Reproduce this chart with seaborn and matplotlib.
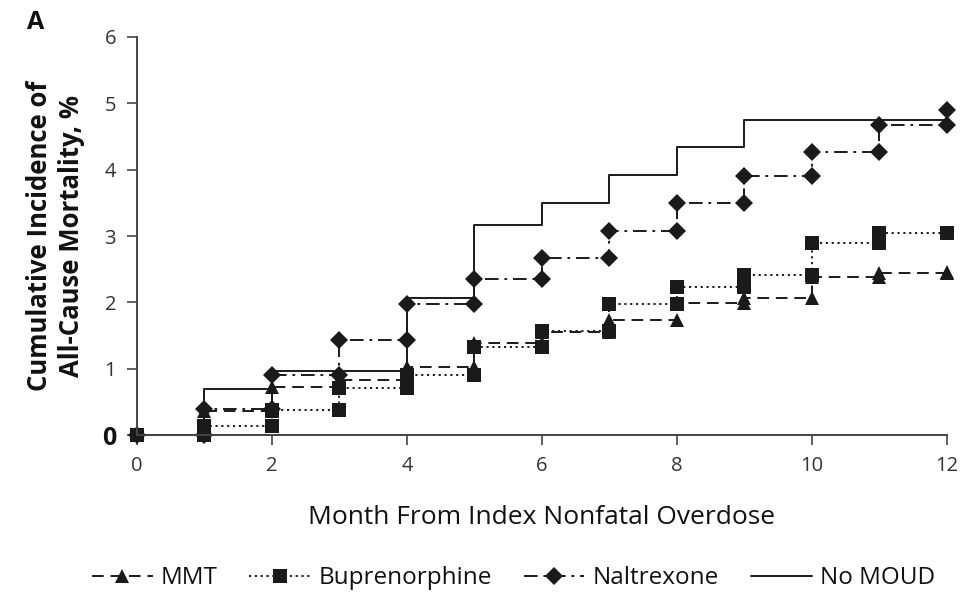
import matplotlib
matplotlib.use("Agg")
import matplotlib.pyplot as plt
import seaborn as sns
import numpy as np
import pandas as pd

# ---- data (cumulative incidence, %, after each monthly step) ----
months = list(range(0, 13))
mmt = [0, 0.36, 0.72, 0.83, 1.02, 1.39, 1.56, 1.74, 1.99, 2.06, 2.38, 2.44, 2.46]
buprenorphine = [0, 0.13, 0.38, 0.71, 0.90, 1.33, 1.57, 1.97, 2.23, 2.42, 2.90, 3.04, 3.04]
naltrexone = [0, 0.39, 0.90, 1.43, 1.97, 2.35, 2.67, 3.07, 3.50, 3.90, 4.27, 4.68, 4.90]
no_moud = [0, 0.70, 0.96, 0.96, 2.06, 3.16, 3.50, 3.92, 4.34, 4.75, 4.75, 4.75, 4.75]

series_names = ["MMT", "Buprenorphine", "Naltrexone", "No MOUD"]
x_ticks = [0, 2, 4, 6, 8, 10, 12]
y_ticks = [0, 1, 2, 3, 4, 5, 6]
x_label = "Month From Index Nonfatal Overdose"
y_label = "Cumulative Incidence of\nAll-Cause Mortality, %"
panel_label = "A"


def step_table(xs, ys):
    """Vertices of a right-continuous step path (markers sit on each vertex)."""
    sx, sy = [xs[0]], [ys[0]]
    for i in range(1, len(xs)):
        sx += [xs[i], xs[i]]
        sy += [ys[i - 1], ys[i]]
    return pd.DataFrame({"month": sx, "pct": sy})


sns.set_theme(style="ticks")
plt.rcParams["font.family"] = ["Open Sans", "DejaVu Sans"]

fig = plt.figure(figsize=(9.68, 5.96), dpi=100)
ax = fig.add_axes([0.1415, 0.270, 0.8365, 0.668])

ink = "#1a1a1a"
styles = {
    "MMT": dict(marker="^", markersize=10, linestyle=(0, (6, 3.5))),
    "Buprenorphine": dict(marker="s", markersize=10, linestyle=(0, (1.1, 1.9))),
    "Naltrexone": dict(marker="D", markersize=9.3, linestyle=(0, (7, 3, 1.4, 3))),
    "No MOUD": dict(marker=None, linestyle="-"),
}
values = {"MMT": mmt, "Buprenorphine": buprenorphine,
          "Naltrexone": naltrexone, "No MOUD": no_moud}

for name in series_names:
    df = step_table(months, values[name])
    sns.lineplot(data=df, x="month", y="pct", estimator=None, sort=False,
                 color=ink, linewidth=1.4, label=name, ax=ax,
                 markeredgewidth=0, clip_on=False, **styles[name])

ax.set_xlim(0, 12)
ax.set_ylim(0, 6)
ax.set_xticks(x_ticks)
ax.set_yticks(y_ticks)
ax.tick_params(axis="both", direction="out", length=7, width=1.2,
               color="#444444", labelsize=14.5, labelcolor="#333333", pad=8)
for s in ["top", "right"]:
    ax.spines[s].set_visible(False)
for s in ["left", "bottom"]:
    ax.spines[s].set_color("#444444")
    ax.spines[s].set_linewidth(1.4)

# bold, larger zero on y axis
ylabs = ax.get_yticklabels()
ylabs[0].set_fontsize(18)
ylabs[0].set_fontweight("bold")
ylabs[0].set_color("#111111")

ax.set_xlabel(x_label, fontsize=19, color="#111111", labelpad=21)
ax.set_ylabel(y_label, fontsize=18.5, fontweight="bold", color="#111111",
              labelpad=12, linespacing=1.25)

fig.text(0.037, 0.962, panel_label, fontsize=18, fontweight="bold",
         color="#111111", ha="center", va="center")

ax.legend(loc="center", bbox_to_anchor=(0.465, -0.36), ncol=4,
          frameon=False, fontsize=17.5, handlelength=2.5, columnspacing=1.3,
          handletextpad=0.35, labelcolor="#111111")

fig.savefig("out.png", dpi=100, facecolor="white")
